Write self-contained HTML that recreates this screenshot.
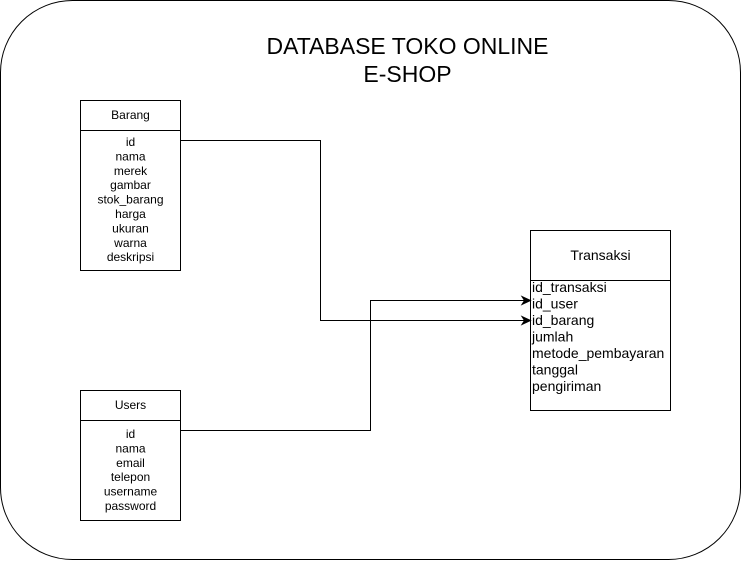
<!DOCTYPE html>
<html><head><meta charset="utf-8"><style>
html,body{margin:0;padding:0;background:#fff;}
svg{display:block;}
text{font-family:"Liberation Sans",Arial,sans-serif;fill:#000;}
</style></head><body>
<svg width="741" height="561" viewBox="0 0 741 561" xmlns="http://www.w3.org/2000/svg">
<rect x="0.5" y="0.5" width="740" height="559" rx="72" ry="72" fill="#fff" stroke="#000" stroke-width="1"/>
<text x="407.5" y="54" font-size="23" text-anchor="middle">DATABASE TOKO ONLINE</text>
<text x="407.5" y="82" font-size="23" text-anchor="middle">E-SHOP</text>

<!-- Barang -->
<rect x="80.5" y="100.5" width="100" height="170" fill="#fff" stroke="#000"/>
<line x1="80.5" y1="130.5" x2="180.5" y2="130.5" stroke="#000"/>
<g font-size="12" text-anchor="middle">
<text x="130.5" y="119">Barang</text>
<text x="130.5" y="146">id</text>
<text x="130.5" y="160.4">nama</text>
<text x="130.5" y="174.8">merek</text>
<text x="130.5" y="189.2">gambar</text>
<text x="130.5" y="203.6">stok_barang</text>
<text x="130.5" y="218">harga</text>
<text x="130.5" y="232.4">ukuran</text>
<text x="130.5" y="246.8">warna</text>
<text x="130.5" y="261.2">deskripsi</text>
</g>

<!-- Users -->
<rect x="80.5" y="390.5" width="100" height="130" fill="#fff" stroke="#000"/>
<line x1="80.5" y1="420.5" x2="180.5" y2="420.5" stroke="#000"/>
<g font-size="12" text-anchor="middle">
<text x="130.5" y="409">Users</text>
<text x="130.5" y="438">id</text>
<text x="130.5" y="452.4">nama</text>
<text x="130.5" y="466.8">email</text>
<text x="130.5" y="481.2">telepon</text>
<text x="130.5" y="495.6">username</text>
<text x="130.5" y="510">password</text>
</g>

<!-- Transaksi -->
<rect x="530.5" y="230.5" width="140" height="180" fill="#fff" stroke="#000"/>
<line x1="530.5" y1="280.5" x2="670.5" y2="280.5" stroke="#000"/>
<text x="600.5" y="260" font-size="14" text-anchor="middle">Transaksi</text>
<g font-size="14">
<text x="532" y="292">id_transaksi</text>
<text x="532" y="308.5">id_user</text>
<text x="532" y="325">id_barang</text>
<text x="532" y="341.5">jumlah</text>
<text x="532" y="358">metode_pembayaran</text>
<text x="532" y="374.5">tanggal</text>
<text x="532" y="391">pengiriman</text>
</g>

<!-- connectors -->
<polyline points="180.5,140.5 320.5,140.5 320.5,320.5 524,320.5" fill="none" stroke="#000"/>
<polygon points="530.5,320.5 522,316.5 524.5,320.5 522,324.5" fill="#000" stroke="#000"/>
<polyline points="180.5,430.5 370.5,430.5 370.5,300.5 524,300.5" fill="none" stroke="#000"/>
<polygon points="530.5,300.5 522,296.5 524.5,300.5 522,304.5" fill="#000" stroke="#000"/>
</svg>
</body></html>
